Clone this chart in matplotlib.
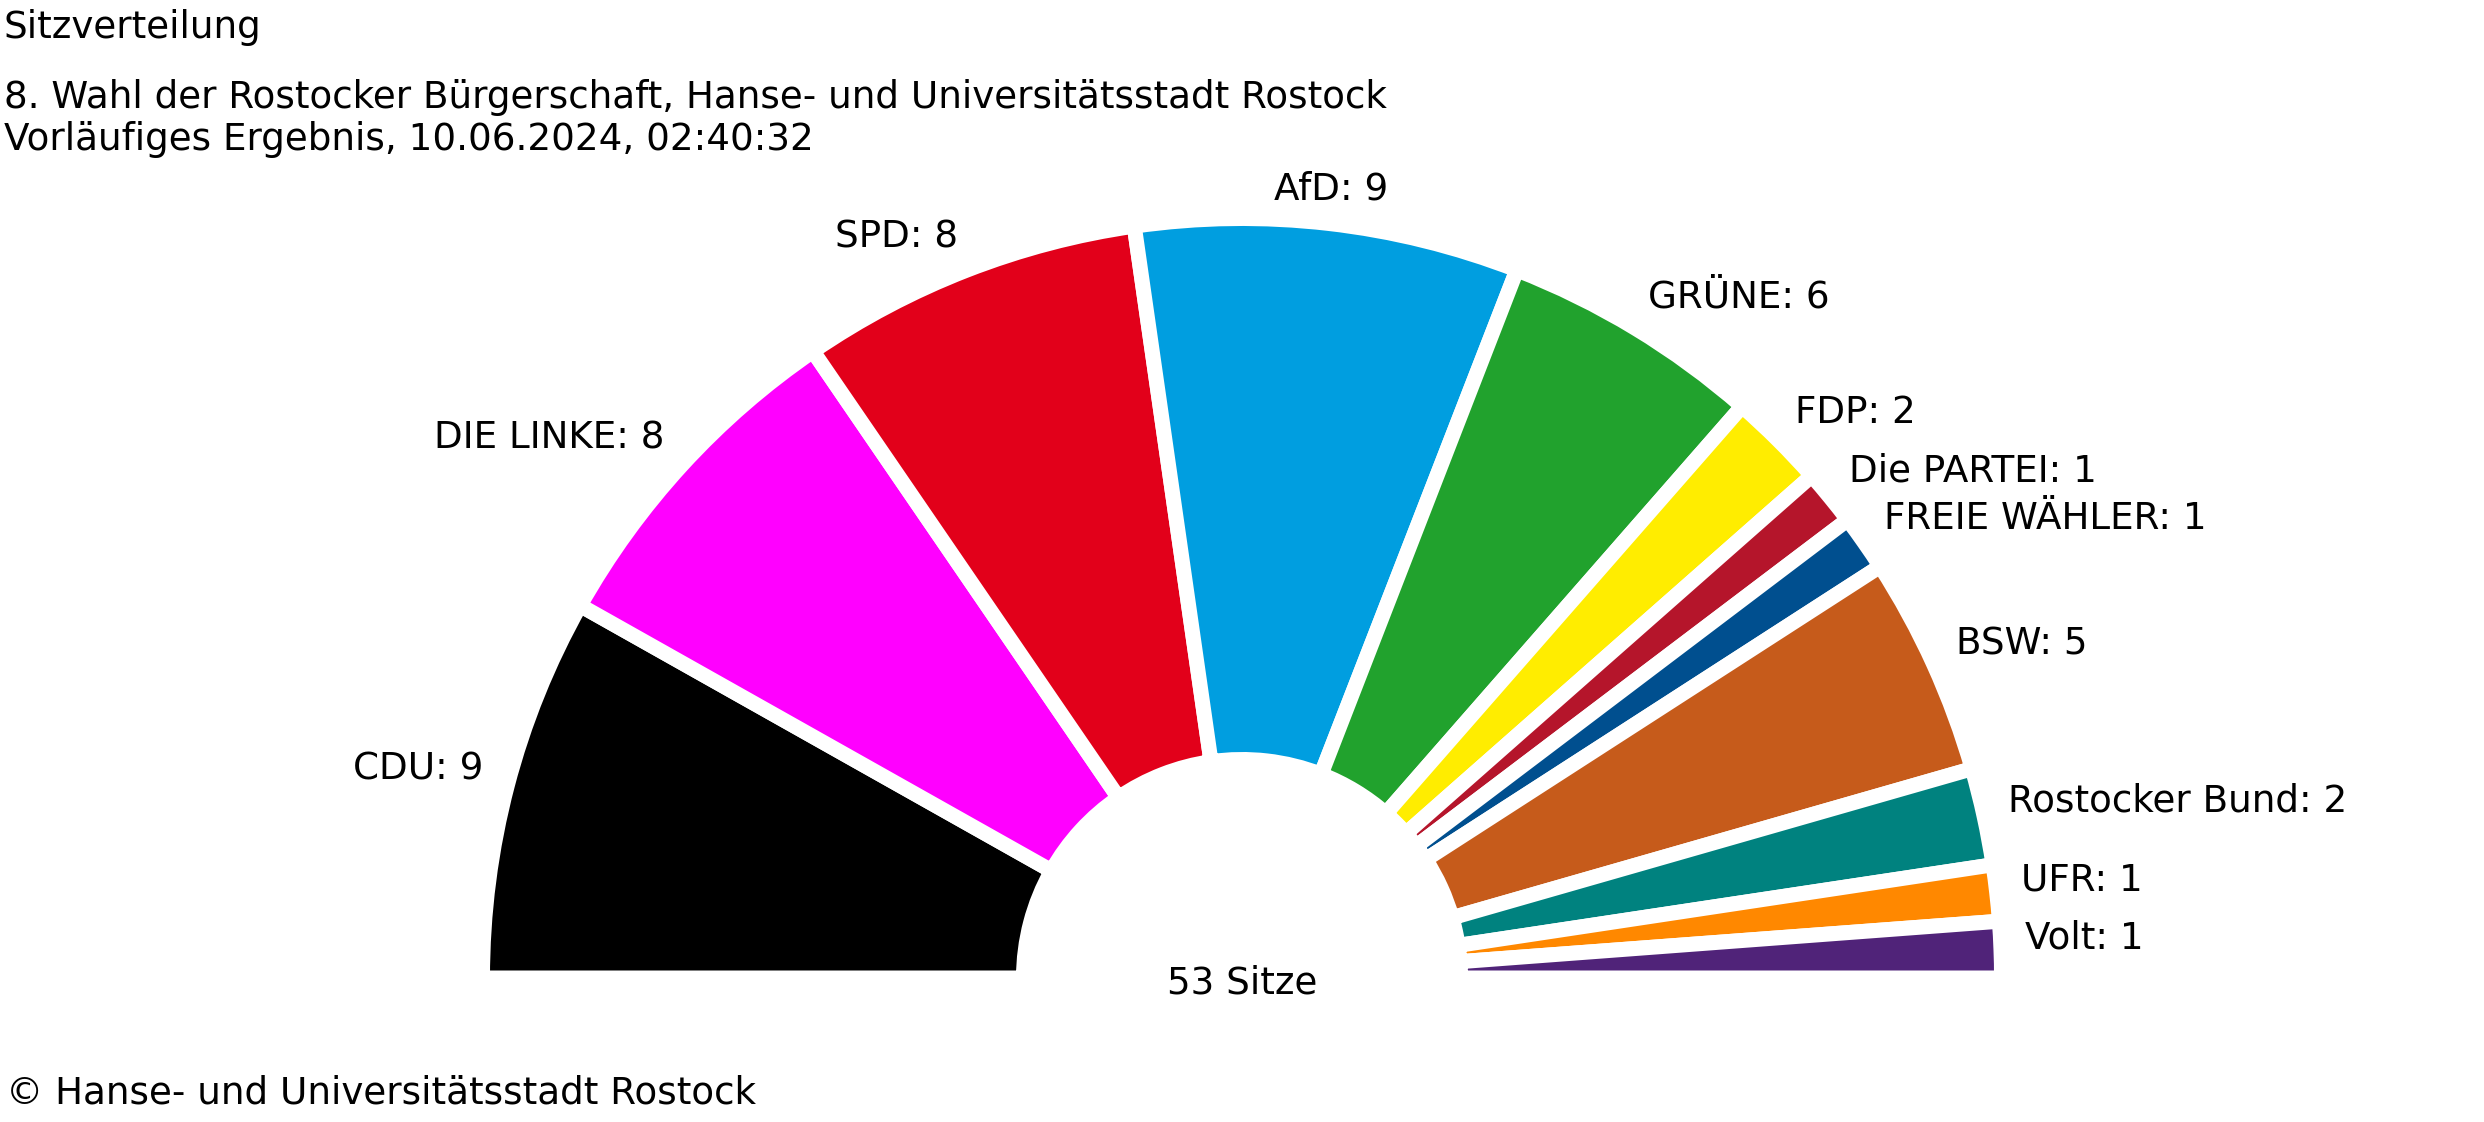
import matplotlib
matplotlib.use("Agg")
import matplotlib.pyplot as plt
import numpy as np
from matplotlib.patches import Wedge

W, H, DPI = 2484, 1122, 100

parteien = ["CDU", "DIE LINKE", "SPD", "AfD", "GRÜNE", "FDP", "Die PARTEI",
            "FREIE WÄHLER", "BSW", "Rostocker Bund", "UFR", "Volt"]
sitze = [9, 8, 8, 9, 6, 2, 1, 1, 5, 2, 1, 1]
farben = ["#000000", "#ff00ff", "#e2001a", "#009ee0", "#21a22d", "#ffed00",
          "#b5152b", "#004f8f", "#c65b1b", "#00827f", "#ff8800", "#502379"]

titel = "Sitzverteilung"
untertitel = ["8. Wahl der Rostocker Bürgerschaft, Hanse- und Universitätsstadt Rostock",
              "Vorläufiges Ergebnis, 10.06.2024, 02:40:32"]
quelle = "© Hanse- und Universitätsstadt Rostock"

# Geometrie in Pixeln (Mittelpunkt von oben gemessen)
CX, CY = 1242, 978
R_PX = 759.5
R_IN = 218.5 / R_PX
R_LABEL = 784 / R_PX
PAD_DEG = 1.15
GAP_PT = 15 * 72 / DPI
FS_PX = 37.3
FS = FS_PX * 72 / DPI

plt.rcParams["font.family"] = ["DejaVu Sans"]

fig = plt.figure(figsize=(W / DPI, H / DPI), dpi=DPI)
ax = fig.add_axes([0, 0, 1, 1])
ax.set_xlim(-CX / R_PX, (W - CX) / R_PX)
ax.set_ylim(-(H - CY) / R_PX, CY / R_PX)
ax.axis("off")

k = (180 - len(sitze) * PAD_DEG) / sum(sitze)
spans = [k * s + PAD_DEG for s in sitze]

start = 180.0
for name, s, farbe, span in zip(parteien, sitze, farben, spans):
    t2 = start
    t1 = start - span
    ax.add_patch(Wedge((0, 0), 1.0, t1, t2, width=1.0 - R_IN, facecolor=farbe,
                       edgecolor="white", linewidth=GAP_PT))
    mid = np.deg2rad((t1 + t2) / 2)
    x, y = R_LABEL * np.cos(mid), R_LABEL * np.sin(mid)
    c = np.cos(mid)
    ha = "center" if abs(c) < 0.2 else ("right" if c < 0 else "left")
    ax.text(x, y, f"{name}: {s}", ha=ha, va="baseline", fontsize=FS)
    start = t1

ax.text(0, -16 / R_PX, f"{sum(sitze)} Sitze", ha="center", va="baseline", fontsize=FS)

fig.text(4 / W, 1 - 38.5 / H, titel, fontsize=FS, va="baseline")
fig.text(4 / W, 1 - 107.5 / H, untertitel[0], fontsize=FS, va="baseline")
fig.text(4 / W, 1 - 150 / H, untertitel[1], fontsize=FS, va="baseline")
fig.text(6 / W, 1 - 1104 / H, quelle, fontsize=FS, va="baseline")

fig.savefig("out.png", dpi=DPI, facecolor="white")
